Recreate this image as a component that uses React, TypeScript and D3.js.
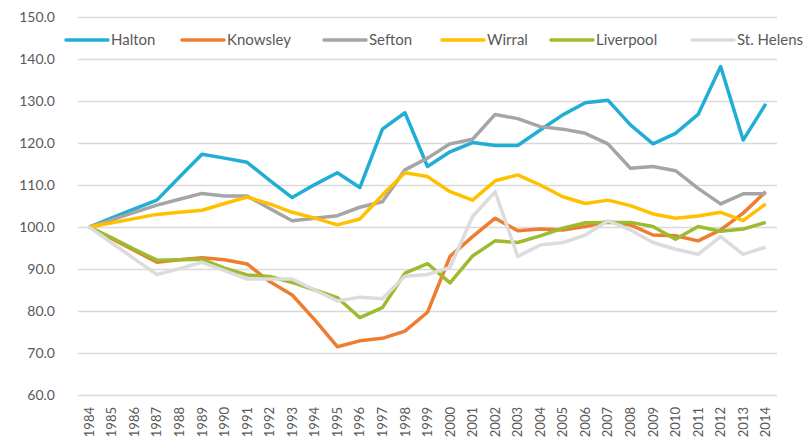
import React, { useRef, useEffect } from 'react';
import { select, scaleBand, scaleLinear, axisLeft, axisBottom, line, range } from 'd3';

const years = range(1984, 2015).map(String);

const halton = [100, 102.2, 104.3, 106.4, 111.9, 117.3, 116.4, 115.4, 111.1, 107.0, 110.1, 112.9, 109.4, 123.3, 127.2, 114.4, 117.9, 120.1, 119.4, 119.4, 123.1, 126.7, 129.6, 130.2, 124.3, 119.8, 122.3, 126.8, 138.2, 120.7, 129.3];
const knowsley = [100, 97.2, 94.4, 91.6, 92.2, 92.7, 92.2, 91.2, 87.0, 83.8, 77.9, 71.5, 72.9, 73.5, 75.2, 79.7, 93.0, 97.7, 102.1, 99.1, 99.5, 99.3, 100.1, 101.3, 100.5, 98.1, 97.9, 96.7, 99.3, 103.3, 108.4];
const sefton = [100, 101.7, 103.5, 105.2, 106.6, 108.0, 107.4, 107.4, 104.4, 101.5, 102.1, 102.7, 104.7, 106.0, 113.6, 116.4, 119.8, 120.9, 126.8, 125.8, 123.9, 123.3, 122.3, 119.8, 114.0, 114.4, 113.4, 109.2, 105.5, 107.9, 107.9];
const wirral = [100, 101.0, 102.0, 103.0, 103.5, 104.0, 105.6, 107.1, 105.5, 103.5, 102.1, 100.5, 101.9, 107.6, 112.9, 112.0, 108.4, 106.4, 111.0, 112.4, 110.0, 107.2, 105.6, 106.4, 105.1, 103.1, 102.1, 102.6, 103.5, 101.5, 105.5];
const liverpool = [100, 97.4, 94.7, 92.1, 92.2, 92.3, 90.2, 88.6, 88.2, 86.8, 85.0, 83.2, 78.4, 80.8, 89.0, 91.3, 86.7, 93.1, 96.7, 96.3, 97.9, 99.7, 101.0, 101.1, 101.1, 100.1, 97.1, 100.1, 99.0, 99.5, 101.1];
const stHelens = [100, 96.2, 92.4, 88.7, 90.1, 91.6, 89.6, 87.6, 87.6, 87.6, 85.0, 82.4, 83.3, 82.9, 88.3, 88.7, 90.4, 102.5, 108.4, 93.0, 95.7, 96.3, 98.1, 101.5, 99.3, 96.3, 94.7, 93.5, 97.7, 93.5, 95.2];

const seriesNames = ['Halton', 'Knowsley', 'Sefton', 'Wirral', 'Liverpool', 'St. Helens'];
const seriesValues = [halton, knowsley, sefton, wirral, liverpool, stHelens];
const seriesColors = ['#21ADD6', '#ED7D31', '#A5A5A5', '#FFC000', '#9DBB2E', '#DCDCDC'];
const yTicks = [60, 70, 80, 90, 100, 110, 120, 130, 140, 150];

// where each legend entry starts (px)
const legendStarts = [66, 182, 324, 442, 551, 692];

const font = 'Lato, "Open Sans", sans-serif';
const textColor = '#595959';

export default function App() {
  const svgRef = useRef(null);

  useEffect(() => {
    const svg = select(svgRef.current);
    svg.selectAll('*').remove();

    const left = 78, right = 777, top = 17, bottom = 395;

    const xScale = scaleBand().domain(years).range([left, right]);
    const yScale = scaleLinear().domain([60, 150]).range([bottom, top]);
    const cx = (y) => xScale(y) + xScale.bandwidth() / 2;

    // y axis + gridlines
    const yAxis = axisLeft(yScale)
      .tickValues(yTicks)
      .tickFormat(d => d.toFixed(1))
      .tickSize(-(right - left))
      .tickPadding(23);
    const gy = svg.append('g').attr('transform', `translate(${left},0)`).call(yAxis);
    gy.select('.domain').remove();
    gy.selectAll('line').attr('stroke', '#D9D9D9').attr('stroke-width', 1.5);
    gy.selectAll('text')
      .attr('fill', textColor)
      .style('font-family', font)
      .style('font-size', '14px');

    // x axis labels, rotated
    const xAxis = axisBottom(xScale).tickSize(0);
    const gx = svg.append('g').attr('transform', `translate(0,${bottom})`).call(xAxis);
    gx.select('.domain').remove();
    gx.selectAll('text')
      .attr('transform', 'rotate(-90)')
      .attr('x', -12)
      .attr('y', 0)
      .attr('dy', '0.35em')
      .attr('text-anchor', 'end')
      .attr('fill', textColor)
      .style('font-family', font)
      .style('font-size', '13px');

    // lines
    const lineGen = line()
      .x((d, i) => cx(years[i]))
      .y(d => yScale(d));

    svg.append('g')
      .selectAll('path')
      .data(seriesValues)
      .join('path')
      .attr('d', d => lineGen(d))
      .attr('fill', 'none')
      .attr('stroke', (d, i) => seriesColors[i])
      .attr('stroke-width', 3.5)
      .attr('stroke-linejoin', 'round');

    // legend
    const legend = svg.append('g').attr('transform', 'translate(0,40)');
    const items = legend.selectAll('g')
      .data(seriesNames)
      .join('g')
      .attr('transform', (d, i) => `translate(${legendStarts[i]},0)`);
    items.append('line')
      .attr('x1', 0).attr('x2', 42)
      .attr('stroke', (d, i) => seriesColors[i])
      .attr('stroke-width', 3.5)
      .attr('stroke-linecap', 'round');
    items.append('text')
      .attr('x', 45)
      .attr('dy', '0.35em')
      .attr('fill', textColor)
      .style('font-family', font)
      .style('font-size', '15px')
      .text(d => d);
  }, []);

  return (
    <div style={{ position: 'absolute', left: 0, top: 0 }}>
      <svg ref={svgRef} width={811} height={448} style={{ display: 'block', background: '#fff' }} />
    </div>
  );
}
